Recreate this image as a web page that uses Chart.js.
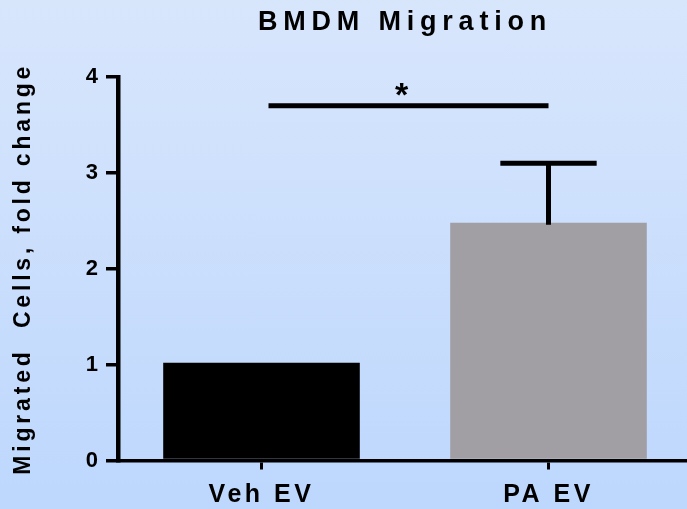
<!DOCTYPE html>
<html>
<head>
<meta charset="utf-8">
<script src="https://cdn.jsdelivr.net/npm/chart.js@4"></script>
<style>
  html, body { margin: 0; padding: 0; overflow: hidden; }
  body { width: 687px; height: 509px; background: linear-gradient(to bottom, #d8e6fc 0%, #bdd7fd 100%); }
  #wrap { width: 692px; height: 509px; position: relative; }
  canvas { display: block; }
</style>
</head>
<body>
<div id="wrap"><canvas id="c" width="692" height="509"></canvas></div>
<script>
// Group means and SEM (fold change of migrated cells)
const categories = ['Veh EV', 'PA EV'];
const meanValues = [1.02, 2.48];
const errorValues = [0, 0.62];
const barColors = ['#000000', '#a19fa4'];
const yTicks = [0, 1, 2, 3, 4];

// Significance bracket between the two groups
const sigPair = [0, 1];
const sigLevel = 3.7;
const sigLabel = '*';

const FONT = "Arial, 'Liberation Sans', Helvetica, sans-serif";

const canvas = document.getElementById('c');
const ctx = canvas.getContext('2d');

// Widely tracked lettering: letter spacing follows the font size in use
const spacingBySize = { '27': '5.8px', '23': '3.8px', '25': '3.5px' };
const fontDesc = Object.getOwnPropertyDescriptor(CanvasRenderingContext2D.prototype, 'font');
Object.defineProperty(ctx, 'font', {
  configurable: true,
  get() { return fontDesc.get.call(this); },
  set(v) {
    fontDesc.set.call(this, v);
    const m = /(\d+(?:\.\d+)?)px/.exec(v);
    this.letterSpacing = (m && spacingBySize[m[1]]) || '0px';
  }
});

// Error bars (upper only) and the significance line with its mark
const annotate = {
  id: 'annotate',
  afterDatasetsDraw(chart) {
    const { ctx, scales: { x, y } } = chart;
    const meta = chart.getDatasetMeta(0);
    ctx.save();
    ctx.strokeStyle = '#000';
    ctx.lineWidth = 5;
    ctx.lineCap = 'butt';
    meta.data.forEach((bar, i) => {
      const err = errorValues[i];
      if (!err) return;
      const top = y.getPixelForValue(meanValues[i] + err);
      const half = bar.width * 0.245;
      ctx.beginPath();
      ctx.moveTo(bar.x, bar.y + 2);
      ctx.lineTo(bar.x, top);
      ctx.moveTo(bar.x - half, top);
      ctx.lineTo(bar.x + half, top);
      ctx.stroke();
    });

    const sy = y.getPixelForValue(sigLevel);
    const x0 = x.getPixelForValue(sigPair[0]) + 7;
    const x1 = x.getPixelForValue(sigPair[1]);
    ctx.beginPath();
    ctx.moveTo(x0, sy);
    ctx.lineTo(x1, sy);
    ctx.stroke();

    ctx.font = 'bold 34px ' + FONT;
    ctx.fillStyle = '#000';
    ctx.textAlign = 'center';
    ctx.textBaseline = 'alphabetic';
    const mid = (x.getPixelForValue(sigPair[0]) + x.getPixelForValue(sigPair[1])) / 2;
    ctx.fillText(sigLabel, mid - 3.5, sy);
    ctx.restore();
  }
};

new Chart(ctx, {
  type: 'bar',
  data: {
    labels: categories,
    datasets: [{
      data: meanValues,
      backgroundColor: barColors,
      borderWidth: 0,
      categoryPercentage: 1,
      barPercentage: 0.685
    }]
  },
  options: {
    responsive: false,
    devicePixelRatio: 1,
    animation: false,
    events: [],
    layout: { padding: { left: 0, right: 0, top: 0, bottom: 0 } },
    plugins: {
      legend: { display: false },
      tooltip: { enabled: false },
      title: {
        display: true,
        text: 'BMDM Migration',
        fullSize: false,
        color: '#000',
        font: { family: FONT, size: 27, weight: 'bold', lineHeight: 1.2 },
        padding: { top: 6.8, bottom: 37.8 }
      }
    },
    scales: {
      x: {
        grid: { display: true, drawOnChartArea: false, offset: false, tickLength: 9, lineWidth: 3, color: '#000' },
        border: { display: true, width: 3.5, color: '#000' },
        ticks: { color: '#000', padding: 11, font: { family: FONT, size: 25, weight: 'bold', lineHeight: 1.2 }, maxRotation: 0 },
        afterFit: s => { s.height = 48.5; }
      },
      y: {
        min: 0,
        max: 4,
        afterBuildTicks: s => { s.ticks = yTicks.map(v => ({ value: v })); },
        grid: { display: true, drawOnChartArea: false, tickLength: 12, lineWidth: 3.5, color: '#000' },
        border: { display: true, width: 4.5, color: '#000' },
        ticks: { color: '#000', padding: 8, font: { family: FONT, size: 22, weight: 'bold' }, callback: v => String(v) },
        title: {
          display: true,
          text: 'Migrated  Cells, fold change',
          color: '#000',
          font: { family: FONT, size: 23, weight: 'bold', lineHeight: 1.2 },
          padding: { top: 9.5, bottom: 0 }
        },
        afterFit: s => { s.width = 118; }
      }
    }
  },
  plugins: [annotate]
});
</script>
</body>
</html>
